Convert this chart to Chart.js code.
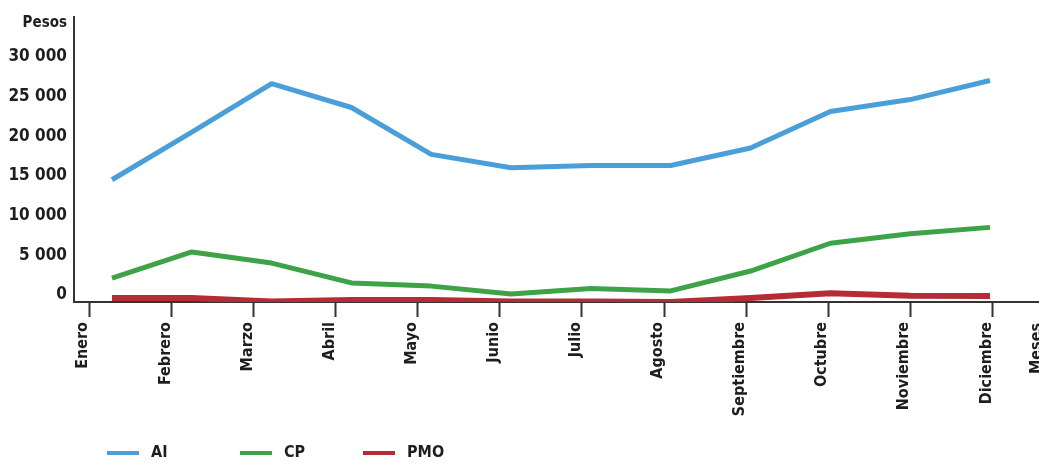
<!DOCTYPE html>
<html>
<head>
<meta charset="utf-8">
<script src="https://cdn.jsdelivr.net/npm/chart.js@4.4.0/dist/chart.umd.min.js"></script>
<style>
html, body { margin: 0; padding: 0; background: #ffffff; }
#wrap { width: 1039px; height: 466px; position: relative; }
</style>
</head>
<body>
<div id="wrap"><canvas id="c"></canvas></div>
<script>
// ---- Data ----
const months = ['Enero', 'Febrero', 'Marzo', 'Abril', 'Mayo', 'Junio', 'Julio', 'Agosto', 'Septiembre', 'Octubre', 'Noviembre', 'Diciembre'];
const seriesNames = ['AI', 'CP', 'PMO'];
const aiValues  = [15400, 21400, 27500, 24500, 18600, 16900, 17200, 17200, 19400, 24000, 25500, 27900];
const cpValues  = [3000, 6300, 4900, 2400, 2000, 1000, 1700, 1400, 3900, 7400, 8600, 9400];
const pmoValues = [500, 500, 50, 250, 250, 50, 50, 0, 500, 1100, 800, 750];
const yTickValues = [0, 5000, 10000, 15000, 20000, 25000, 30000];
const yAxisTitle = 'Pesos';
const xAxisTitle = 'Meses';

// ---- Styles ----
const FONT = '"DejaVu Sans Condensed", "DejaVu Sans", sans-serif';
const TEXT_COLOR = '#1e1e1e';
const AXIS_COLOR = '#333333';
const seriesColors = ['#4b9fd9', '#3ea346', '#b52c37'];
const seriesWidths = [5, 5, 6];

const seriesValues = [aiValues, cpValues, pmoValues];

function fmt(v) {
  return String(v).replace(/\B(?=(\d{3})+(?!\d))/g, ' ');
}

const extraText = {
  id: 'extraText',
  afterDraw(chart) {
    const { ctx, chartArea } = chart;
    ctx.save();
    ctx.fillStyle = TEXT_COLOR;
    // y-axis title
    ctx.font = 'bold 15px ' + FONT;
    ctx.textAlign = 'right';
    ctx.textBaseline = 'middle';
    ctx.fillText(yAxisTitle, chartArea.left - 7, chartArea.top + 6);
    // x-axis title (rotated, at far right)
    ctx.save();
    ctx.font = 'bold 16px ' + FONT;
    ctx.translate(chart.width - 2, chartArea.bottom + 21);
    ctx.rotate(-Math.PI / 2);
    ctx.textAlign = 'right';
    ctx.textBaseline = 'middle';
    ctx.fillText(xAxisTitle, 0, 0);
    ctx.restore();
    // legend
    const legendX = [107, 240, 363];
    const legendY = 453;
    ctx.font = 'bold 16px ' + FONT;
    ctx.textAlign = 'left';
    ctx.textBaseline = 'middle';
    chart.data.datasets.forEach((ds, i) => {
      const x = legendX[i];
      ctx.strokeStyle = ds.borderColor;
      ctx.lineWidth = 4;
      ctx.lineCap = 'butt';
      ctx.beginPath();
      ctx.moveTo(x, legendY);
      ctx.lineTo(x + 32, legendY);
      ctx.stroke();
      ctx.fillStyle = TEXT_COLOR;
      ctx.fillText(ds.label, x + 44, legendY);
    });
    ctx.restore();
  }
};

const datasets = seriesNames.map((name, s) => ({
  label: name,
  data: seriesValues[s].map((v, i) => ({ x: i, y: v })),
  borderColor: seriesColors[s],
  backgroundColor: seriesColors[s],
  borderWidth: seriesWidths[s],
  pointRadius: 0,
  tension: 0,
  fill: false,
  borderJoinStyle: 'round',
  xAxisID: 'xData',
  yAxisID: 'y'
}));

new Chart(document.getElementById('c'), {
  type: 'line',
  data: { datasets },
  options: {
    responsive: true,
    maintainAspectRatio: false,
    animation: false,
    layout: { padding: { top: 15, right: 0, bottom: 0, left: 0 } },
    plugins: { legend: { display: false }, tooltip: { enabled: false } },
    scales: {
      x: {
        type: 'linear',
        position: 'bottom',
        min: -0.186,
        max: 11.567,
        afterBuildTicks: (scale) => { scale.ticks = months.map((m, i) => ({ value: i })); },
        afterFit: (scale) => { scale.height = 164; },
        grid: { display: true, drawOnChartArea: false, drawTicks: true, tickLength: 15, tickWidth: 2, tickColor: AXIS_COLOR },
        border: { display: true, color: AXIS_COLOR, width: 2 },
        ticks: {
          autoSkip: false,
          minRotation: 90,
          maxRotation: 90,
          padding: 5,
          labelOffset: -6,
          color: TEXT_COLOR,
          font: { family: FONT, size: 16, weight: 'bold' },
          callback: (v) => months[v]
        }
      },
      xData: {
        type: 'linear',
        display: false,
        min: -0.476,
        max: 11.614
      },
      y: {
        type: 'linear',
        position: 'left',
        min: 0,
        max: 35875,
        afterBuildTicks: (scale) => { scale.ticks = yTickValues.map(v => ({ value: v })); },
        afterFit: (scale) => { scale.width = 74; },
        grid: { display: false, drawTicks: false },
        border: { display: true, color: AXIS_COLOR, width: 2 },
        ticks: {
          padding: 7,
          labelOffset: -7,
          color: TEXT_COLOR,
          font: { family: FONT, size: 17, weight: 'bold' },
          callback: (v) => fmt(v)
        }
      }
    }
  },
  plugins: [extraText]
});
</script>
</body>
</html>
